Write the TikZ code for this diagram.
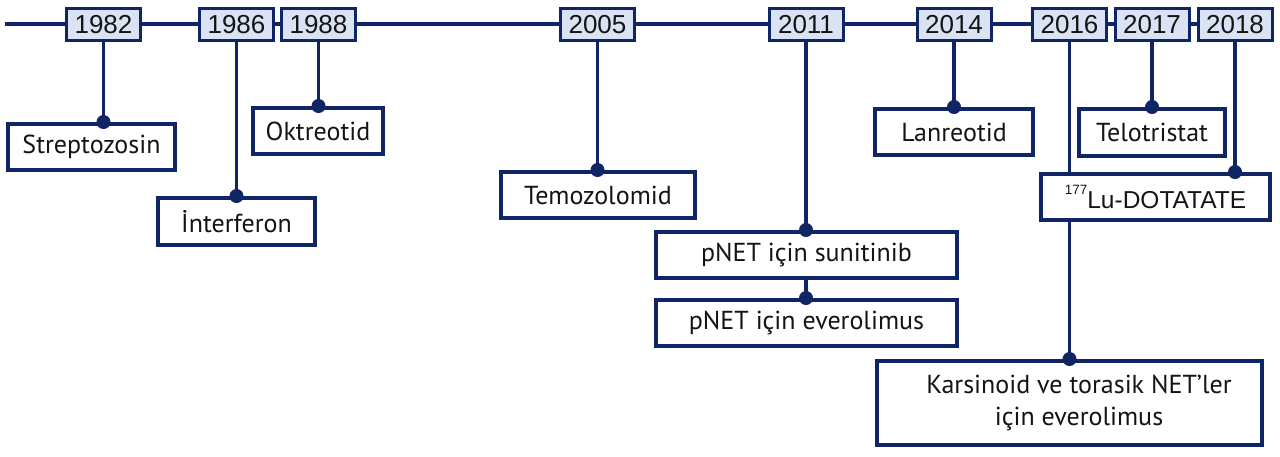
\documentclass[tikz,border=0pt]{standalone}
\usepackage{fontspec}
\setmainfont{PT Sans}
\newfontfamily\yearfont{Liberation Sans}
\definecolor{navy}{HTML}{0F2565}
\definecolor{yearfill}{HTML}{DAE3F3}
\definecolor{ink}{HTML}{141414}
\begin{document}
\begin{tikzpicture}[x=1pt,y=-1pt,
  yearbox/.style={draw=navy, fill=yearfill, line width=3pt, minimum width=74pt, minimum height=32pt, inner sep=0pt, text=ink, font=\yearfont\fontsize{26}{28}\selectfont},
  itembox/.style={draw=navy, fill=white, line width=4pt, inner sep=0pt, minimum height=46pt, text=ink, font=\fontsize{26}{31}\selectfont},
  conn/.style={draw=navy, line width=3.6pt},
  dot/.style={circle, fill=navy, inner sep=0pt, minimum size=14pt}]
\useasboundingbox (0,0) rectangle (1280,456);

% timeline
\coordinate (tl) at (5,24);
\coordinate (tr) at (1200,24);
\draw[conn] (tl) -- (tr);

% year boxes
\node[yearbox] (y1982) at (103.5,24.5) {1982};
\node[yearbox] (y1986) at (236.5,24.5) {1986};
\node[yearbox] (y1988) at (318.5,24.5) {1988};
\node[yearbox] (y2005) at (597.5,24.5) {2005};
\node[yearbox] (y2011) at (806,24.5) {2011};
\node[yearbox] (y2014) at (954,24.5) {2014};
\node[yearbox] (y2016) at (1069.5,24.5) {2016};
\node[yearbox] (y2017) at (1152,24.5) {2017};
\node[yearbox] (y2018) at (1235,24.5) {2018};

% item box centres
\path (91.5,147) coordinate (cstrep)
      (236.5,221.5) coordinate (cinter)
      (318,131) coordinate (cokt)
      (598,195) coordinate (ctemo)
      (806.5,255) coordinate (csun)
      (806.5,323) coordinate (ceve)
      (954,132) coordinate (clan)
      (1152,132.5) coordinate (ctelo)
      (1155.5,197) coordinate (clu)
      (1069.5,403) coordinate (ckars);

% Karsinoid box and 2016 long connector (behind Lu box)
\node[itembox, minimum width=385pt, minimum height=84pt] (kars) at (ckars) {};
\coordinate (d2016) at (y2016.south |- kars.north);
\draw[conn] (y2016.south) -- (d2016);
\node[text=ink, font=\fontsize{26}{32}\selectfont, align=center] (karstext) at (1079,403) {Karsinoid ve torasik NET’ler\\için everolimus};

% item boxes
\node[itembox, minimum width=167pt] (strep) at (cstrep) {Streptozosin};
\node[itembox, minimum width=157pt, minimum height=47pt] (inter) at (cinter) {İnterferon};
\node[itembox, minimum width=130pt] (okt) at (cokt) {Oktreotid};
\node[itembox, minimum width=194pt] (temo) at (ctemo) {Temozolomid};
\node[itembox, minimum width=301pt] (sun) at (csun) {pNET için sunitinib};
\node[itembox, minimum width=301pt] (eve) at (ceve) {pNET için everolimus};
\node[itembox, minimum width=158pt] (lan) at (clan) {Lanreotid};
\node[itembox, minimum width=146pt, minimum height=47pt] (telo) at (ctelo) {Telotristat};
\node[itembox, minimum width=229pt, font=\yearfont\fontsize{24.5}{30}\selectfont] (lu) at (clu) {\raisebox{0.6em}{\fontsize{13.5}{15}\selectfont 177}Lu-DOTATATE};

% connectors
\coordinate (d1982) at (y1982.south |- strep.north);
\coordinate (d1986) at (y1986.south |- inter.north);
\coordinate (d1988) at (y1988.south |- okt.north);
\coordinate (d2005) at (y2005.south |- temo.north);
\coordinate (d2011) at (y2011.south |- sun.north);
\coordinate (dsun) at (y2011.south |- sun.south);
\coordinate (deve) at (y2011.south |- eve.north);
\coordinate (d2014) at (y2014.south |- lan.north);
\coordinate (d2017) at (y2017.south |- telo.north);
\coordinate (d2018) at (y2018.south |- lu.north);
\coordinate (dlub) at (y2016.south |- lu.south);

\draw[conn] (y1982.south) -- (d1982);
\draw[conn] (y1986.south) -- (d1986);
\draw[conn] (y1988.south) -- (d1988);
\draw[conn] (y2005.south) -- (d2005);
\draw[conn] (y2011.south) -- (d2011);
\draw[conn] (dsun) -- (deve);
\draw[conn] (y2014.south) -- (d2014);
\draw[conn] (y2017.south) -- (d2017);
\draw[conn] (y2018.south) -- (d2018);
\draw[conn] (y2016.south) -- (y2016.south |- lu.north);
\draw[conn] (dlub) -- (d2016);

\foreach \d in {d1982,d1986,d1988,d2005,d2011,deve,d2014,d2017,d2018,d2016}
  \node[dot] at (\d) {};
\end{tikzpicture}
\end{document}
